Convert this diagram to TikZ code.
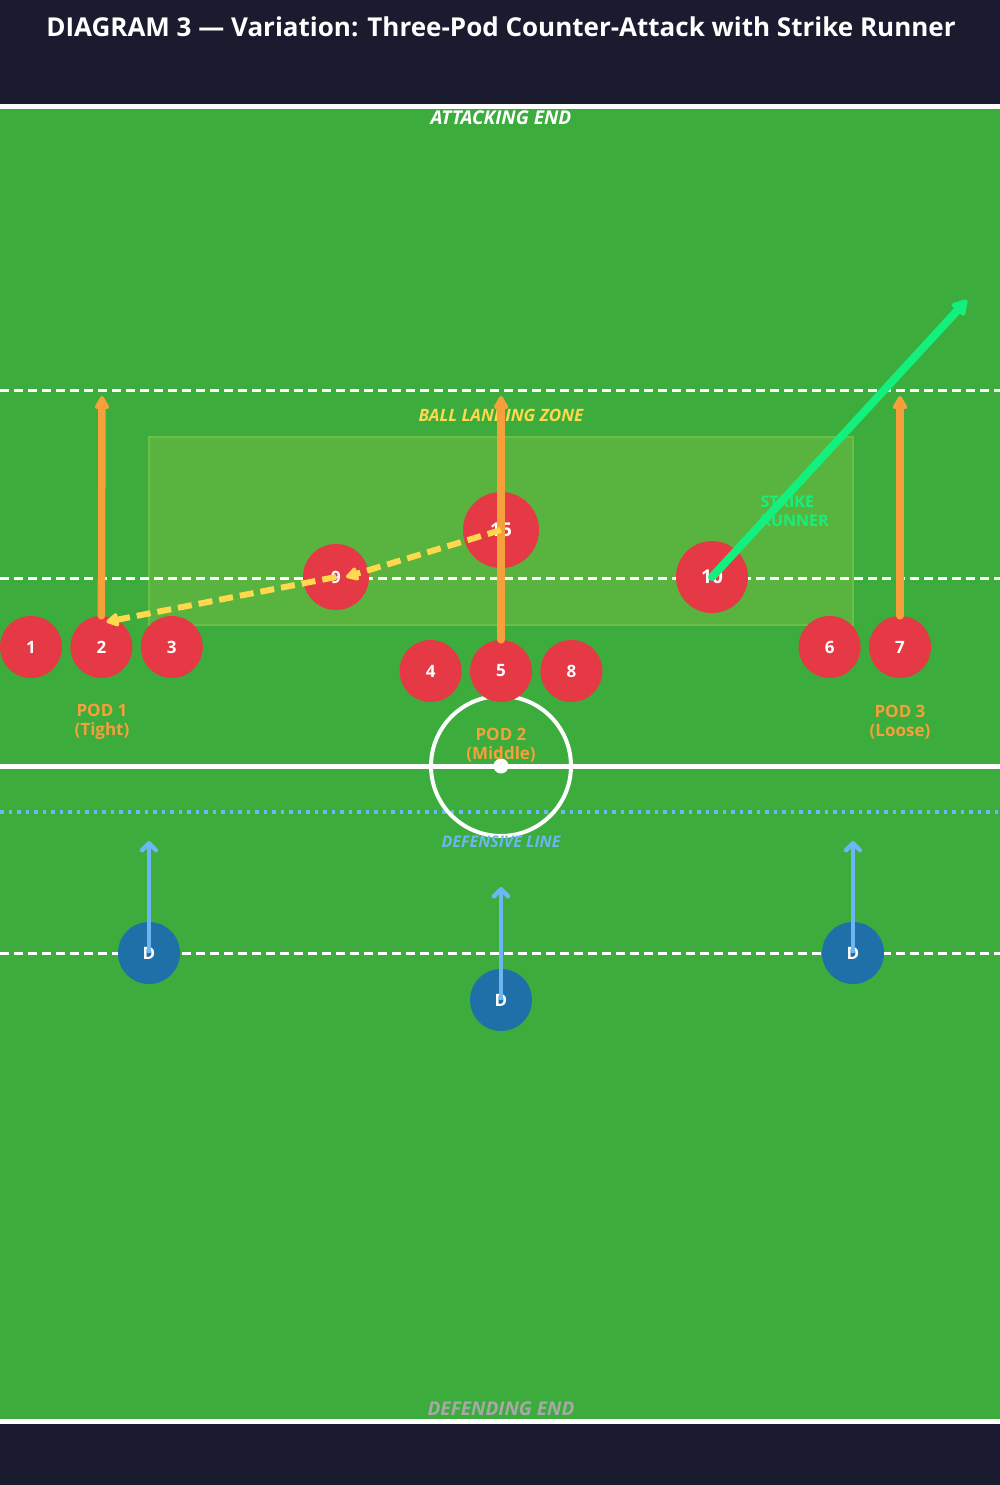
\documentclass[tikz,border=0pt]{standalone}
\usepackage{fontspec}
\setmainfont{Open Sans}
\usetikzlibrary{arrows.meta,positioning,calc}
\definecolor{night}{HTML}{1B1B2F}
\definecolor{pitch}{HTML}{3CAC3C}
\definecolor{zonefill}{HTML}{58B33F}
\definecolor{zoneedge}{HTML}{6BBF47}
\definecolor{attack}{HTML}{E63946}
\definecolor{defblue}{HTML}{1F6FA8}
\definecolor{runorange}{HTML}{F5A03A}
\definecolor{passyellow}{HTML}{FFD84D}
\definecolor{strikegreen}{HTML}{14F07E}
\definecolor{coverblue}{HTML}{6CB6F5}
\definecolor{endgray}{HTML}{A8A8A8}
\newcommand{\setpx}[2]{\fontsize{#1pt}{#2pt}\selectfont}
\tikzset{
player/.style = {circle, fill=attack, text=white, inner sep=0pt, minimum size=62pt, font=\bfseries\setpx{17}{19}},
defender/.style = {circle, fill=defblue, text=white, inner sep=0pt, minimum size=62pt, font=\bfseries\setpx{17}{19}},
podlabel/.style = {align=center, text=runorange, font=\bfseries\setpx{17}{19}},
endlabel/.style = {font=\bfseries\itshape\setpx{19}{22}},
fieldline/.style = {draw=white, line width=3pt, dash pattern=on 9pt off 5pt},
run/.style = {->, draw=runorange, line width=7.5pt, line cap=round},
pass/.style = {-{Triangle[length=14pt,width=15pt,round]}, draw=passyellow, line width=6pt, dash pattern=on 14pt off 7pt},
strike/.style = {-{Triangle[length=17pt,width=19pt,round]}, draw=strikegreen, line width=8pt, line cap=round},
cover/.style = {-{Straight Barb[length=7pt,width=14pt,round]}, draw=coverblue, line width=4.5pt}
}
\begin{document}
\begin{tikzpicture}[x=1pt, y=-1pt, node distance=8pt, >={Triangle[length=15pt,width=16pt,round]}]
  \useasboundingbox (0,0) rectangle (1000,1485);
  % frame and pitch
  \fill[night] (0,0) rectangle (1000,1485);
  \fill[pitch] (0,107) rectangle (1000,1421);
  \draw[white, line width=5pt] (0,107) -- (1000,107);
  \draw[white, line width=5pt] (0,1421) -- (1000,1421);
  \node[text=white, font=\bfseries\setpx{26}{30}] (title) at (501,27) {DIAGRAM 3 — Variation: Three-Pod Counter-Attack with Strike Runner};

  % landing zone and field markings
  \draw[fill=zonefill, draw=zoneedge, line width=1.5pt] (149,437) rectangle (853,625);
  \draw[fieldline] (0,390) -- (1000,390);
  \draw[fieldline] (0,578) -- (1000,578);
  \draw[fieldline] (0,953) -- (1000,953);
  \draw[coverblue, line width=3.5pt, dash pattern=on 3.5pt off 5pt] (0,812) -- (1000,812);
  \draw[white, line width=5pt] (0,766) -- (1000,766);
  \draw[white, line width=4pt] (501,766) circle (70);
  \fill[white] (501,766) circle (7.5);

  \node[endlabel, text=white] (attend) at (501,118) {ATTACKING END};
  \node[endlabel, text=endgray] (defend) at (501,1409) {DEFENDING END};
  \node[text=passyellow, font=\bfseries\itshape\setpx{17}{20}] (zonelbl) at (501,415) {BALL LANDING ZONE};
  \node[text=coverblue, font=\bfseries\itshape\setpx{16}{19}] (deflbl) at (501,842) {DEFENSIVE LINE};

  % pods
  \node[player] (p1) at (31,647) {1};
  \node[player, right=of p1] (p2) {2};
  \node[player, right=of p2] (p3) {3};
  \node[player] (p5) at (501,671) {5};
  \node[player, left=of p5] (p4) {4};
  \node[player, right=of p5] (p8) {8};
  \node[player] (p7) at (900,647) {7};
  \node[player, left=of p7] (p6) {6};
  \node[player, minimum size=66pt] (p9) at (336,577) {9};
  \node[player, minimum size=76pt, font=\bfseries\setpx{19}{22}] (p15) at (501,530) {15};
  \node[player, minimum size=72pt, font=\bfseries\setpx{19}{22}] (p10) at (712,577) {10};

  \node[podlabel] (pod1) at (102,722) {POD 1\\(Tight)};
  \node[podlabel] (pod2) at (501,745) {POD 2\\(Middle)};
  \node[podlabel] (pod3) at (900,722) {POD 3\\(Loose)};
  \node[text=strikegreen, align=left, anchor=west, font=\bfseries\setpx{16}{19}] (strikelbl) at (757,511) {STRIKE\\RUNNER};

  % defenders
  \node[defender] (d1) at (149,953) {D};
  \node[defender] (d2) at (501,1000) {D};
  \node[defender] (d3) at (853,953) {D};

  % runs
  \coordinate (p2run) at (102,396);
  \coordinate (p5run) at (501,396);
  \coordinate (p7run) at (900,396);
  \coordinate (strikeend) at (967,300);
  \coordinate (d1up) at (149,841);
  \coordinate (d2up) at (501,887);
  \coordinate (d3up) at (853,841);
  \draw[run] (p2.north) -- (p2run);
  \draw[run] (p5.north) -- (p5run);
  \draw[run] (p7.north) -- (p7run);
  \draw[pass] (p15.center) -- ($(p9.center)+(10,0)$);
  \draw[pass] (p9.center) -- ($(p2.north)+(5,6)$);
  \draw[strike] (p10.center) -- (strikeend);
  \draw[cover] (d1.center) -- (d1up);
  \draw[cover] (d2.center) -- (d2up);
  \draw[cover] (d3.center) -- (d3up);
\end{tikzpicture}
\end{document}
